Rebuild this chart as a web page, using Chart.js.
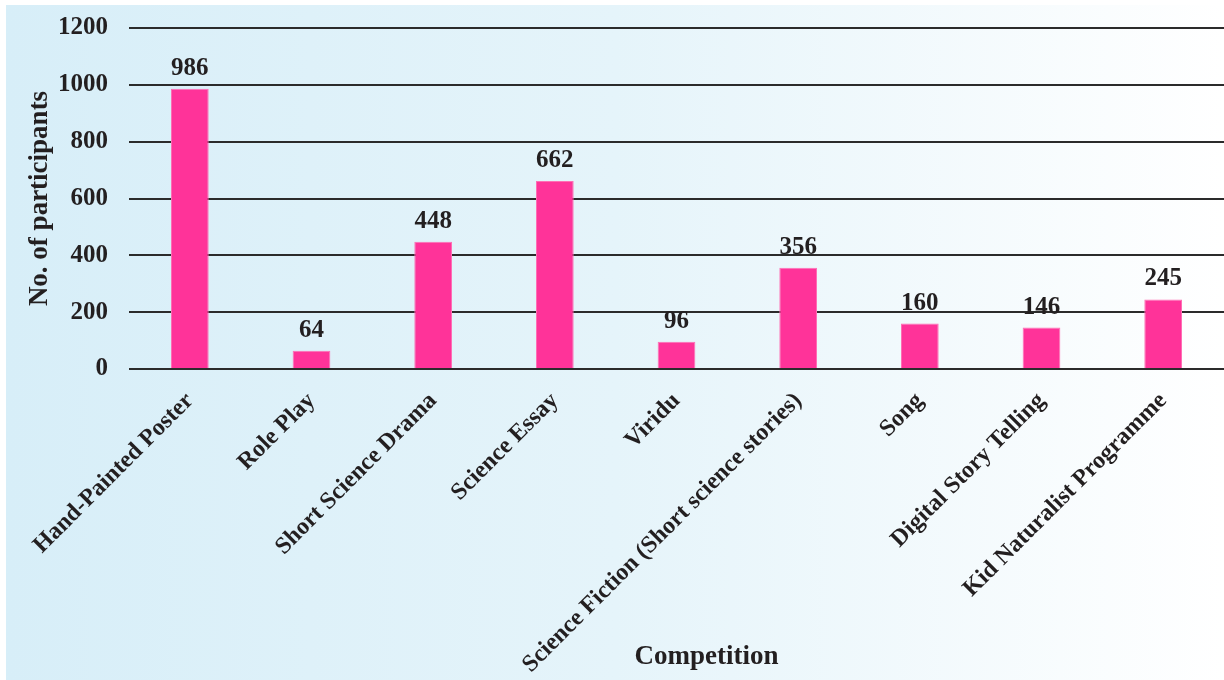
<!DOCTYPE html>
<html lang="en">
<head>
    <meta charset="UTF-8">
    <title>Participants by competition</title>
    <script src="https://cdn.jsdelivr.net/npm/chart.js"></script>
    <style>
        html, body { margin: 0; padding: 0; background: #fff; }
        #fundo {
            position: absolute; left: 6px; top: 5px; right: 0; bottom: 0;
            background: linear-gradient(to right, #d7eef8 0%, #e5f4fa 50%, #ffffff 100%);
        }
        #caixa { position: absolute; left: 0; top: 0; width: 1224px; height: 680px; }
    </style>
</head>
<body>
    <div id="fundo"></div>
    <div id="caixa">
        <canvas id="grafico"></canvas>
    </div>

    <script>
        // categorias e valores
        const competicoes = [
            'Hand-Painted Poster', 'Role Play', 'Short Science Drama', 'Science Essay', 'Viridu',
            'Science Fiction (Short science stories)', 'Song', 'Digital Story Telling', 'Kid Naturalist Programme'
        ]
        const participantes = [986, 64, 448, 662, 96, 356, 160, 146, 245]
        const marcasY = [0, 200, 400, 600, 800, 1000, 1200]
        const tituloX = 'Competition'
        const tituloY = 'No. of participants'

        const fonte = '"Liberation Serif", "Times New Roman", serif'
        const corTexto = '#231f20'

        // escreve o valor em cima de cada barra + o titulo do eixo x
        const rotulos = {
            id: 'rotulos',
            afterDatasetsDraw(chart) {
                const ctx = chart.ctx
                const meta = chart.getDatasetMeta(0)
                ctx.save()
                ctx.font = 'bold 25px ' + fonte
                ctx.fillStyle = corTexto
                ctx.textAlign = 'center'
                ctx.textBaseline = 'alphabetic'
                meta.data.forEach((barra, i) => {
                    ctx.fillText(participantes[i], barra.x, barra.y - 14)
                })
                // titulo do eixo x um pouco deslocado para a direita
                const area = chart.chartArea
                ctx.font = 'bold 27px ' + fonte
                ctx.textBaseline = 'middle'
                ctx.fillText(tituloX, (area.left + area.right) / 2 + 30, chart.height - 23)
                ctx.restore()
            }
        }

        const ctx = document.getElementById('grafico')
        new Chart(ctx, {
            type: 'bar',
            data: {
                labels: competicoes,
                datasets: [{
                    data: participantes,
                    backgroundColor: '#ff3399',
                    borderColor: '#ff6fb5',
                    borderWidth: 1,
                    barPercentage: 0.31,
                    categoryPercentage: 1
                }]
            },
            options: {
                responsive: true,
                maintainAspectRatio: false,
                animation: false,
                layout: { padding: { top: 28, left: 0, right: 0, bottom: 0 } },
                plugins: {
                    legend: { display: false },
                    tooltip: { enabled: false }
                },
                scales: {
                    x: {
                        grid: { display: false },
                        border: { display: false },
                        ticks: {
                            color: corTexto,
                            font: { family: fonte, size: 24, weight: 'bold' },
                            minRotation: 45,
                            maxRotation: 45,
                            autoSkip: false,
                            padding: 10
                        },
                        afterFit(s) {
                            s.height = 311
                            s.paddingLeft = 0
                            s.paddingRight = 0
                        }
                    },
                    y: {
                        min: 0,
                        max: 1200,
                        afterBuildTicks(s) {
                            s.ticks = marcasY.map(v => ({ value: v }))
                        },
                        grid: { color: '#2b2b2b', lineWidth: 2, drawTicks: false },
                        border: { display: false },
                        ticks: {
                            color: corTexto,
                            font: { family: fonte, size: 25, weight: 'bold' },
                            padding: 21,
                            callback: v => String(v)
                        },
                        title: {
                            display: true,
                            text: tituloY,
                            color: corTexto,
                            font: { family: fonte, size: 27, weight: 'bold' },
                            padding: { top: 24, bottom: 0 }
                        },
                        afterFit(s) {
                            s.width = 129
                            s.paddingTop = 0
                            s.paddingBottom = 0
                        }
                    }
                }
            },
            plugins: [rotulos]
        })
    </script>
</body>
</html>
